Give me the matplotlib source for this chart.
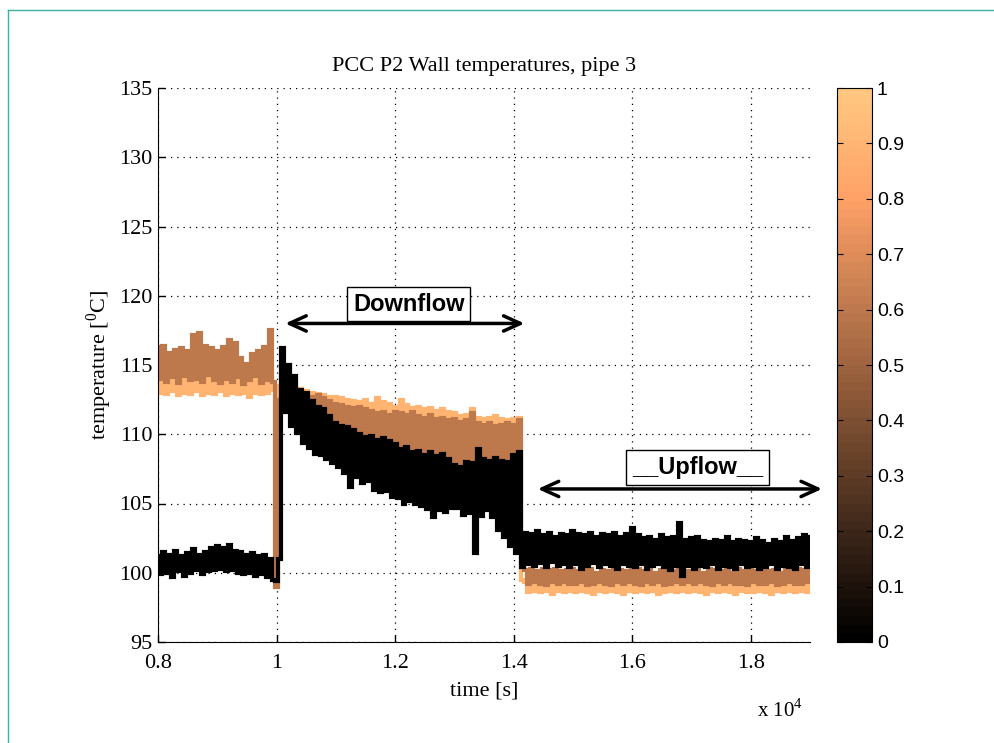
import numpy as np
import matplotlib
matplotlib.use('Agg')
import matplotlib.pyplot as plt
from matplotlib.lines import Line2D
from matplotlib.colors import ListedColormap, Normalize
from matplotlib.cm import ScalarMappable

plt.rcParams['font.family'] = 'Liberation Serif'
plt.rcParams['mathtext.fontset'] = 'custom'
plt.rcParams['mathtext.rm'] = 'Liberation Serif'

# sample times [s], one reading every 50 s
time = np.arange(8000, 19001, 50)

# wall temperature, sensor drawn black (colour 0)
T_black = [
    101.2, 99.9, 101.5, 100.0, 101.3, 99.7, 101.6, 100.1, 101.2, 99.8, 101.4, 100.0, 101.7, 100.2, 101.3, 99.9, 101.5, 100.1, 101.8, 100.2,
    101.9, 100.3, 101.8, 100.1, 102.0, 100.2, 101.6, 100.0, 101.5, 99.9, 101.3, 100.0, 101.4, 99.8, 101.2, 99.9, 101.3, 99.7, 101.0, 99.5,
    99.4, 101.0, 116.2, 111.6, 115.0, 110.6, 114.2, 110.1, 113.2, 109.4, 113.0, 109.0, 112.4, 108.6, 112.0, 108.5, 111.8, 108.2, 111.3, 107.9,
    110.8, 107.6, 110.6, 107.2, 110.5, 106.2, 110.3, 106.9, 110.0, 106.5, 109.8, 106.6, 109.9, 106.0, 109.6, 105.8, 109.7, 105.9, 109.5, 105.5,
    109.3, 105.4, 108.9, 105.0, 109.1, 105.2, 108.7, 105.0, 108.8, 104.8, 108.5, 104.6, 108.7, 104.0, 108.4, 104.5, 108.6, 104.4, 108.2, 104.7,
    107.8, 104.7, 107.6, 104.2, 108.0, 104.3, 107.9, 101.4, 108.9, 104.1, 108.2, 104.5, 108.1, 104.0, 108.3, 103.1, 108.1, 102.6, 108.0, 101.9,
    108.5, 101.4, 108.7, 100.4, 102.9, 100.6, 102.8, 100.5, 103.0, 100.7, 102.7, 100.4, 102.9, 100.8, 102.6, 100.5, 102.8, 100.6, 102.7, 100.4,
    103.0, 100.6, 102.8, 100.3, 102.7, 100.5, 102.9, 100.7, 102.6, 100.4, 102.8, 100.6, 102.7, 100.5, 102.9, 100.3, 102.6, 100.6, 102.8, 100.5,
    103.2, 100.4, 102.7, 100.6, 102.5, 100.3, 102.6, 100.5, 102.4, 100.6, 102.7, 100.4, 102.5, 100.2, 102.6, 100.5, 103.6, 99.8, 102.4, 100.5,
    102.5, 100.3, 102.6, 100.5, 102.3, 100.4, 102.2, 100.6, 102.4, 100.3, 102.3, 100.5, 102.6, 100.4, 102.2, 100.3, 102.4, 100.6, 102.3, 100.4,
    102.2, 100.5, 102.5, 100.3, 102.3, 100.4, 102.1, 100.6, 102.4, 100.3, 102.2, 100.5, 102.6, 100.4, 102.3, 100.3, 102.5, 100.6, 102.7, 100.4,
    102.6,
]

# sensor drawn mid copper (colour 0.6)
T_mid = [
    116.3, 114.0, 116.4, 113.8, 115.9, 114.1, 116.1, 113.7, 116.2, 114.2, 116.0, 113.9, 117.2, 114.0, 117.3, 113.8, 116.4, 114.3, 116.2, 113.9,
    116.0, 113.7, 116.3, 114.0, 116.8, 113.8, 116.6, 114.1, 115.5, 113.6, 115.1, 113.9, 115.8, 114.2, 116.0, 113.7, 116.3, 113.9, 117.5, 113.8,
    99.0, 112.5, 114.8, 112.0, 115.0, 111.6, 113.8, 111.4, 113.0, 111.2, 112.9, 110.9, 112.7, 110.8, 112.8, 110.7, 112.6, 110.9, 112.4, 110.6,
    112.2, 110.5, 112.1, 110.3, 112.0, 110.2, 111.9, 109.8, 112.0, 109.5, 111.8, 109.2, 111.7, 109.3, 111.5, 109.1, 111.6, 109.2, 111.4, 109.0,
    111.6, 109.1, 111.5, 108.9, 111.4, 108.8, 111.6, 108.6, 111.3, 108.5, 111.2, 108.7, 111.4, 108.3, 111.1, 108.2, 111.2, 108.0, 111.0, 107.9,
    111.1, 107.9, 110.9, 107.5, 111.0, 107.2, 111.5, 107.4, 110.8, 107.3, 110.7, 107.6, 110.8, 107.7, 110.6, 107.9, 110.7, 108.0, 110.8, 108.1,
    110.7, 108.2, 111.0, 100.4, 100.2, 99.2, 100.3, 99.3, 100.1, 99.2, 100.3, 99.1, 100.2, 99.3, 100.3, 99.2, 100.1, 99.3, 100.2, 99.2,
    100.3, 99.2, 100.1, 99.3, 100.2, 99.1, 100.3, 99.2, 100.0, 99.3, 100.2, 99.2, 100.1, 99.1, 100.3, 99.3, 100.2, 99.2, 100.1, 99.3,
    100.2, 99.2, 100.3, 99.1, 100.1, 99.3, 100.2, 99.2, 100.0, 99.3, 100.2, 99.1, 100.3, 99.2, 100.1, 99.3, 100.2, 99.2, 100.1, 99.3,
    100.1, 99.2, 100.2, 99.3, 100.0, 99.2, 100.3, 99.1, 100.2, 99.3, 100.1, 99.2, 100.2, 99.3, 100.0, 99.2, 100.3, 99.2, 100.1, 99.1,
    100.2, 99.3, 100.1, 99.2, 100.3, 99.2, 100.1, 99.3, 100.2, 99.1, 100.0, 99.2, 100.2, 99.3, 100.1, 99.2, 100.3, 99.2, 100.2, 99.3,
    100.1,
]

# sensor drawn light copper (colour 0.9)
T_light = [
    114.6, 113.0, 114.5, 112.9, 114.7, 113.1, 114.4, 112.8, 114.6, 113.0, 114.5, 112.9, 114.8, 113.1, 114.6, 112.8, 114.5, 113.0, 114.7, 112.9,
    114.6, 113.1, 114.5, 112.8, 114.6, 113.0, 114.4, 112.9, 114.5, 113.0, 114.6, 112.7, 114.5, 113.0, 114.6, 112.9, 114.4, 113.0, 114.5, 113.2,
    113.5, 112.0, 113.0, 111.8, 113.3, 111.6, 113.4, 111.5, 113.3, 111.4, 113.1, 111.3, 113.0, 111.2, 112.9, 111.2, 112.8, 111.1, 112.7, 111.0,
    112.7, 111.0, 112.6, 110.8, 112.5, 110.7, 112.4, 110.6, 112.3, 110.5, 112.5, 110.4, 112.2, 110.3, 112.6, 110.2, 112.3, 110.1, 112.2, 110.0,
    112.0, 110.0, 112.5, 109.8, 112.1, 109.7, 111.9, 109.8, 112.0, 109.6, 111.8, 109.5, 111.9, 109.4, 111.7, 109.3, 111.8, 109.2, 111.6, 109.1,
    111.5, 109.0, 111.3, 108.9, 111.4, 108.8, 111.8, 108.7, 111.2, 108.8, 111.1, 108.9, 111.2, 108.7, 111.3, 108.8, 111.1, 108.9, 111.0, 108.8,
    111.1, 108.9, 111.2, 99.5, 99.3, 98.6, 99.3, 98.7, 99.2, 98.6, 99.3, 98.7, 99.2, 98.5, 99.3, 98.7, 99.2, 98.6, 99.3, 98.7,
    99.3, 98.6, 99.2, 98.7, 99.3, 98.6, 99.2, 98.5, 99.3, 98.7, 99.2, 98.6, 99.3, 98.7, 99.2, 98.6, 99.3, 98.5, 99.2, 98.7,
    99.3, 98.6, 99.2, 98.7, 99.3, 98.6, 99.2, 98.7, 99.3, 98.5, 99.2, 98.6, 99.3, 98.7, 99.2, 98.6, 99.3, 98.7, 99.2, 98.6,
    99.2, 98.7, 99.3, 98.6, 99.2, 98.5, 99.3, 98.7, 99.2, 98.6, 99.3, 98.7, 99.2, 98.6, 99.3, 98.5, 99.2, 98.7, 99.3, 98.6,
    99.3, 98.6, 99.2, 98.7, 99.3, 98.6, 99.2, 98.5, 99.3, 98.7, 99.2, 98.6, 99.3, 98.7, 99.2, 98.6, 99.3, 98.7, 99.2, 98.6,
    99.3,
]

series = [(T_light, 0.9), (T_mid, 0.6), (T_black, 0.0)]

xticks = [8000, 10000, 12000, 14000, 16000, 18000]
xticklabels = ['0.8', '1', '1.2', '1.4', '1.6', '1.8']
yticks = [95, 100, 105, 110, 115, 120, 125, 130, 135]

W, H = 995, 743
fig = plt.figure(figsize=(W / 100, H / 100), dpi=100)
fig.patch.set_facecolor('white')

ax = fig.add_axes([158 / W, 1 - 642 / H, (810 - 158) / W, (642 - 88) / H])
copper = plt.get_cmap('copper')
for vals, c in series:
    ax.plot(time, vals, color=copper(c), lw=3, drawstyle='steps-mid', solid_joinstyle='miter')

ax.set_xlim(8000, 19000)
ax.set_ylim(95, 135)
ax.set_xticks(xticks)
ax.set_xticklabels(xticklabels)
ax.set_yticks(yticks)
ax.grid(True, color='black', linestyle=(0, (1, 4)), lw=0.9)
ax.spines['top'].set_visible(False)
ax.spines['right'].set_visible(False)
ax.tick_params(direction='in', length=5, labelsize=16, width=1)
ax.tick_params(axis='x', pad=9)
ax.tick_params(axis='y', pad=4)
ax.set_title('PCC P2 Wall temperatures, pipe 3', fontsize=16, pad=12)
ax.set_xlabel('time [s]', fontsize=16, labelpad=6)
ax.set_ylabel(r'temperature [$^{0}$C]', fontsize=16, labelpad=4)
fig.text(757 / W, 1 - 710 / H, r'x 10$^{4}$', fontsize=15, va='center')

# flow direction arrows
ax.annotate('', xy=(10100, 118.0), xytext=(14230, 118.0),
            arrowprops=dict(arrowstyle='<->,head_length=0.55,head_width=0.25',
                            lw=2.5, mutation_scale=22, color='black'))
ax.text(12230, 119.4, 'Downflow', family='Liberation Sans', weight='bold', fontsize=17,
        ha='center', va='center',
        bbox=dict(boxstyle='square,pad=0.25', fc='white', ec='black', lw=1))
ax.annotate('', xy=(14360, 106.05), xytext=(19250, 106.05), annotation_clip=False,
            arrowprops=dict(arrowstyle='<->,head_length=0.55,head_width=0.25',
                            lw=2.5, mutation_scale=22, color='black'))
ax.text(17100, 107.6, '__Upflow__', family='Liberation Sans', weight='bold', fontsize=17,
        ha='center', va='center',
        bbox=dict(boxstyle='square,pad=0.25', fc='white', ec='black', lw=1))

# colorbar
cax = fig.add_axes([837 / W, 1 - 642 / H, 35 / W, (642 - 88) / H])
cmap64 = ListedColormap(copper(np.linspace(0, 1, 64)))
cb = fig.colorbar(ScalarMappable(norm=Normalize(0, 1), cmap=cmap64), cax=cax)
cb.set_ticks(np.round(np.arange(0, 1.01, 0.1), 1))
cb.set_ticklabels(['0', '0.1', '0.2', '0.3', '0.4', '0.5', '0.6', '0.7', '0.8', '0.9', '1'])
cax.tick_params(direction='in', left=True, right=True, length=4, labelsize=14)
for lab in cax.get_yticklabels():
    lab.set_family('Liberation Sans')
cb.outline.set_linewidth(0.8)

# frame around the figure
fig.add_artist(Line2D([8 / W, 8 / W], [0, 1 - 10 / H], transform=fig.transFigure, color='#3fb0a0', lw=1))
fig.add_artist(Line2D([8 / W, 1], [1 - 10 / H, 1 - 10 / H], transform=fig.transFigure, color='#3fb0a0', lw=1))

fig.savefig('out.png', dpi=100)
